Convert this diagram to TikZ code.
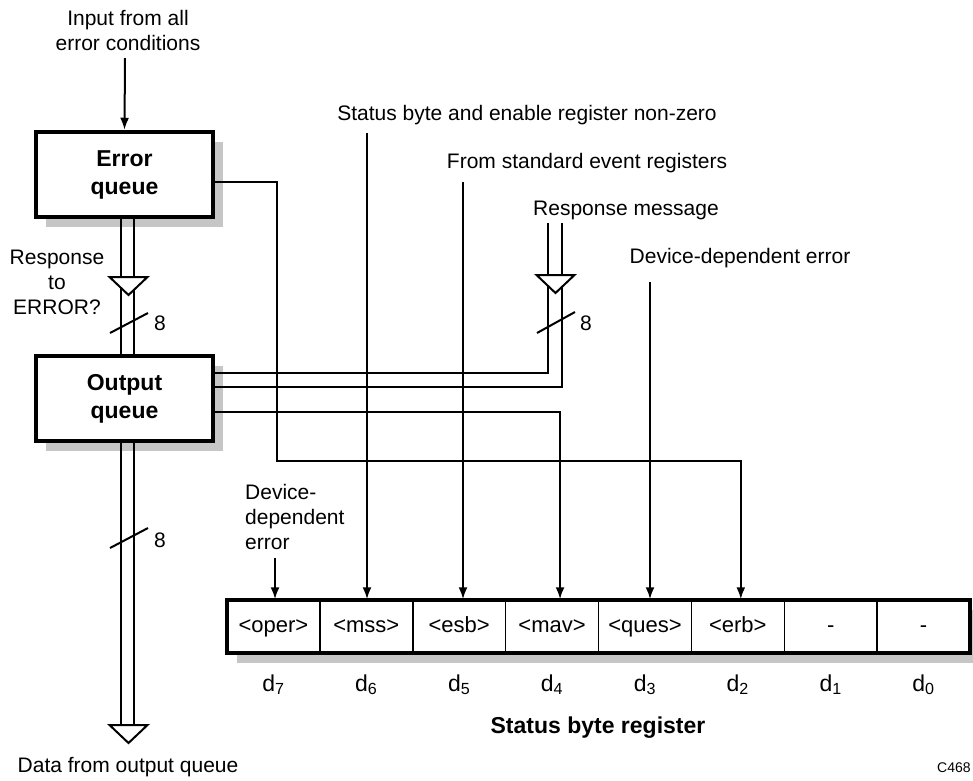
\documentclass[tikz,border=0pt]{standalone}
\usepackage{fontspec}
\setmainfont{Liberation Sans}
\usetikzlibrary{arrows.meta,shadows}

\begin{document}
\begin{tikzpicture}[x=1pt,y=-1pt,
  lbl/.style={font=\fontsize{21}{25}\selectfont, inner sep=0pt, align=center},
  qbox/.style={draw, line width=4.5pt, fill=white, minimum width=177pt, minimum height=85pt,
    align=center, font=\fontsize{23}{28}\selectfont\bfseries,
    drop shadow={shadow xshift=10pt, shadow yshift=-10pt, fill=gray!45, opacity=1}},
  regbox/.style={draw, line width=4pt, fill=white, minimum width=743pt, minimum height=53pt, inner sep=0pt,
    drop shadow={shadow xshift=10pt, shadow yshift=-10pt, fill=gray!45, opacity=1}},
  cell/.style={draw, line width=1.5pt, minimum width=92.875pt, minimum height=53pt, inner sep=0pt,
    text height=16pt, text depth=5pt, font=\fontsize{22}{26}\selectfont},
  dlbl/.style={font=\fontsize{23}{26}\selectfont, inner sep=0pt, text height=17pt, text depth=5pt},
  wire/.style={line width=2pt},
  arr/.style={wire, -{Latex[length=12pt,width=9pt]}},
  bus/.style={line width=2pt},
  tri/.style={line width=2pt, fill=white, line join=miter},
]
\useasboundingbox (0,0) rectangle (973,780);

% queues
\node[qbox] (eq) at (124.5,174.5) {Error\\queue};
\node[qbox] (oq) at (124.5,398.5) {Output\\queue};

% status byte register
\node[regbox] (reg) at (598.5,626.5) {};
\node[cell] (c7) at (273.44,626.5) {<oper>};
\node[cell] (c6) at (366.31,626.5) {<mss>};
\node[cell] (c5) at (459.19,626.5) {<esb>};
\node[cell] (c4) at (552.06,626.5) {<mav>};
\node[cell] (c3) at (644.94,626.5) {<ques>};
\node[cell] (c2) at (737.81,626.5) {<erb>};
\node[cell] (c1) at (830.69,626.5) {-};
\node[cell] (c0) at (923.56,626.5) {-};

\node[dlbl] (d7) at (c7.center |- 0,685) {d\textsubscript{7}};
\node[dlbl] (d6) at (c6.center |- 0,685) {d\textsubscript{6}};
\node[dlbl] (d5) at (c5.center |- 0,685) {d\textsubscript{5}};
\node[dlbl] (d4) at (c4.center |- 0,685) {d\textsubscript{4}};
\node[dlbl] (d3) at (c3.center |- 0,685) {d\textsubscript{3}};
\node[dlbl] (d2) at (c2.center |- 0,685) {d\textsubscript{2}};
\node[dlbl] (d1) at (c1.center |- 0,685) {d\textsubscript{1}};
\node[dlbl] (d0) at (c0.center |- 0,685) {d\textsubscript{0}};
\node[dlbl, font=\fontsize{23}{26}\selectfont\bfseries] (sbr) at (598,727) {Status byte register};

% labels
\node[lbl] (inp) at (128,30) {Input from all\\error conditions};
\node[lbl] (rte) at (57,282) {Response\\to\\ERROR?};
\node[lbl] (sbl) at (527,115) {Status byte and enable register non-zero};
\node[lbl] (fse) at (587,163) {From standard event registers};
\node[lbl] (rml) at (626,210) {Response message};
\node[lbl] (dde) at (740,258) {Device-dependent error};
\node[lbl, align=left, anchor=west] (ddl) at (245,517) {Device-\\dependent\\error};
\node[lbl] (dfo) at (128,767) {Data from output queue};
\node[lbl, anchor=west, font=\fontsize{14}{16}\selectfont] (code) at (937,768) {C468};
\node[lbl] (n8a) at (160,323) {8};
\node[lbl] (n8b) at (586,323) {8};
\node[lbl] (n8c) at (160,540) {8};

% input arrow
\coordinate (inA) at (125,58);
\draw[arr] (inA) -- (eq.north);

% bus between queues
\draw[bus] ([xshift=-3.5pt]eq.south) -- ([xshift=-3.5pt]oq.north);
\draw[bus] ([xshift=9.5pt]eq.south) -- ([xshift=9.5pt]oq.north);
\coordinate (t1) at (128.5,277);
\draw[tri] (t1) ++(-19,0) -- ++(38,0) -- ++(-19,18) -- cycle;
\draw[wire] (110,333) -- (148,313);

% bus below output queue
\coordinate (t3) at (128.5,725);
\draw[bus] ([xshift=-3.5pt]oq.south) -- ([xshift=-3.5pt]oq.south |- t3);
\draw[bus] ([xshift=9.5pt]oq.south) -- ([xshift=9.5pt]oq.south |- t3);
\draw[tri] (t3) ++(-19,0) -- ++(38,0) -- ++(-19,18) -- cycle;
\draw[wire] (110,548) -- (148,528);

% response message bus into output queue
\coordinate (rmL) at (548,223);
\coordinate (rmR) at (562,223);
\draw[wire] (rmL) |- (oq.east |- 0,373);
\draw[wire] (rmR) |- (oq.east |- 0,387);
\coordinate (t2) at (555.5,275);
\draw[tri] (t2) ++(-19,0) -- ++(38,0) -- ++(-19,18) -- cycle;
\draw[wire] (537,333) -- (575,312);

% output queue to mav
\draw[arr] (oq.east |- 0,412) -| ([xshift=8pt]c4.north);

% error queue to erb
\draw[arr] (eq.east |- 0,182) -| (277,461) -| ([xshift=3pt]c2.north);

% status byte / enable non-zero to mss
\coordinate (mssT) at (367,133);
\draw[arr] (mssT) -- (mssT |- c6.north);

% standard event registers to esb
\coordinate (esbT) at (463,182);
\draw[arr] (esbT) -- (esbT |- c5.north);

% device-dependent error to ques
\coordinate (quesT) at (650,282);
\draw[arr] (quesT) -- (quesT |- c3.north);

% device-dependent error to oper
\coordinate (operT) at (275,558);
\draw[arr] (operT) -- (operT |- c7.north);
\end{tikzpicture}
\end{document}
